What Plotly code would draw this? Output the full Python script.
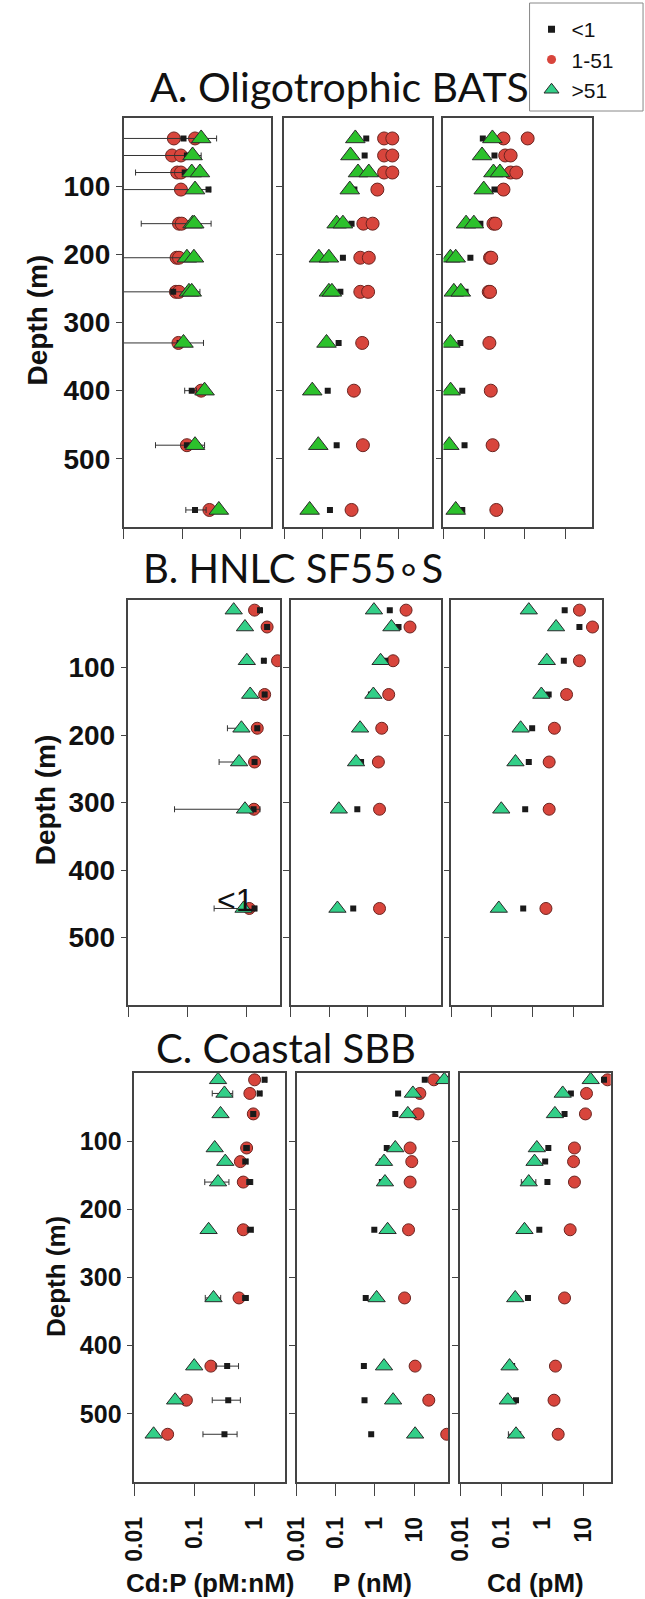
import math
import plotly.graph_objects as go

W, H = 645, 1599

# ---------------- Panel A: Oligotrophic BATS ----------------
A_lt_depth = [30, 55, 80, 105, 155, 205, 255, 330, 400, 480, 575]
A_lt_cdp = [0.105, 0.12, 0.11, 0.28, 0.14, 0.13, 0.070, 0.09, 0.145, 0.12, 0.165]
A_lt_cdp_ep = [0.28, 0.09, 0.05, 0.02, 0.17, 0.03, 0.13, 0.14, 0.03, 0.12, 0.09]
A_lt_cdp_em = [0.2, 0.2, 0.094, 0.3, 0.12, 0.2, 0.1, 0.1, 0.035, 0.085, 0.05]
A_lt_p = [1.43, 1.3, 1.5, 0.7, 0.59, 0.35, 0.30, 0.27, 0.14, 0.24, 0.16]
A_lt_cd = [0.093, 0.18, 0.2, 0.18, 0.081, 0.046, 0.035, 0.026, 0.029, 0.033, 0.029]

A_mid_depth = [30, 30, 55, 55, 80, 80, 105, 155, 155, 205, 205, 255, 255, 330, 400, 480, 575]
A_mid_cdp = [0.072, 0.165, 0.067, 0.095, 0.082, 0.095, 0.095, 0.088, 0.098, 0.080, 0.088,
             0.078, 0.088, 0.086, 0.21, 0.12, 0.29]
A_mid_p = [4.2, 6.9, 4.2, 6.9, 4.2, 6.9, 2.8, 1.2, 2.1, 1.0, 1.67, 1.0, 1.6, 1.12, 0.68, 1.17, 0.59]
A_mid_cd = [0.30, 1.18, 0.33, 0.45, 0.45, 0.62, 0.30, 0.17, 0.19, 0.14, 0.15, 0.13, 0.14,
            0.135, 0.146, 0.162, 0.20]

A_gt_depth = [30, 55, 80, 80, 105, 155, 155, 205, 205, 255, 255, 330, 400, 480, 575]
A_gt_cdp = [0.21, 0.15, 0.145, 0.20, 0.165, 0.15, 0.16, 0.12, 0.158, 0.13, 0.145, 0.105, 0.24, 0.165, 0.42]
A_gt_p = [0.74, 0.55, 0.87, 1.67, 0.53, 0.24, 0.35, 0.082, 0.15, 0.15, 0.18, 0.13, 0.055, 0.079, 0.047]
A_gt_cd = [0.16, 0.089, 0.17, 0.245, 0.098, 0.036, 0.056, 0.0148, 0.020, 0.018, 0.0267,
           0.0148, 0.015, 0.0139, 0.02]

# ---------------- Panel B: HNLC SF55S ----------------
B_depth = [15, 40, 90, 140, 190, 240, 310, 457]
B_lt_cdp = [1.67, 2.2, 1.94, 2.0, 1.5, 1.35, 1.3, 1.35]
B_lt_cdp_ep = [0.1, 0.1, 0.12, 0.1, 0.1, 0.08, 0.37, 0.08]
B_lt_cdp_em = [0.1, 0.1, 0.12, 0.1, 0.1, 0.08, 1.24, 0.08]
B_lt_p = [3.9, 6.6, 3.0, 1.25, 0.65, 0.69, 0.55, 0.43]
B_lt_cd = [6.2, 14.3, 5.9, 2.5, 0.98, 0.81, 0.66, 0.59]
B_mid_cdp = [1.35, 2.2, 3.3, 2.0, 1.5, 1.35, 1.32, 1.1]
B_mid_p = [10.4, 13.2, 4.75, 3.65, 2.4, 1.96, 2.1, 2.1]
B_mid_cd = [14.3, 30, 14.3, 6.9, 3.46, 2.57, 2.57, 2.14]
B_gt_cdp = [0.60, 0.93, 1.0, 1.14, 0.81, 0.74, 0.93, 0.88]
B_gt_cdp_ep = [0, 0, 0, 0, 0.05, 0.05, 0, 0.05]
B_gt_cdp_em = [0, 0, 0, 0, 0.34, 0.40, 0, 0.6]
B_gt_p = [1.5, 4.3, 2.24, 1.45, 0.65, 0.51, 0.18, 0.166]
B_gt_cd = [0.81, 3.8, 2.25, 1.65, 0.51, 0.38, 0.17, 0.148]

# ---------------- Panel C: Coastal SBB ----------------
C_depth = [10, 30, 60, 110, 130, 160, 230, 330, 430, 480, 530]
C_lt_cdp = [1.5, 1.24, 0.97, 0.75, 0.72, 0.85, 0.87, 0.72, 0.355, 0.37, 0.32]
C_lt_cdp_ep = [0.1, 0.1, 0.08, 0.08, 0.07, 0.1, 0.1, 0.08, 0.195, 0.22, 0.2]
C_lt_cdp_em = [0.1, 0.1, 0.08, 0.08, 0.07, 0.1, 0.1, 0.08, 0.125, 0.17, 0.18]
C_lt_p = [18.7, 3.9, 3.3, 2.0, 1.5, 1.5, 0.96, 0.58, 0.52, 0.54, 0.8]
C_lt_cd = [32, 5.0, 3.5, 1.41, 1.18, 1.34, 0.85, 0.45, 0.185, 0.23, 0.25]
C_mid_cdp = [1.02, 0.85, 0.97, 0.75, 0.59, 0.66, 0.66, 0.56, 0.19, 0.074, 0.036]
C_mid_p = [32, 14, 12.6, 7.9, 8.7, 7.9, 7.2, 5.7, 10.6, 23.7, 68]
C_mid_cd = [39, 12, 11.3, 6.1, 5.8, 6.1, 4.8, 3.5, 2.1, 1.94, 2.45]
C_gt_cdp = [0.25, 0.32, 0.275, 0.22, 0.33, 0.25, 0.174, 0.21, 0.10, 0.048, 0.021]
C_gt_cdp_ep = [0, 0.12, 0, 0, 0, 0.13, 0, 0.067, 0, 0, 0]
C_gt_cdp_em = [0, 0.12, 0, 0, 0, 0.10, 0, 0.057, 0, 0, 0]
C_gt_p = [59, 9.3, 6.9, 3.3, 1.7, 1.8, 2.1, 1.1, 1.7, 2.9, 10.6]
C_gt_cd = [15.2, 3.16, 2.04, 0.74, 0.65, 0.47, 0.37, 0.22, 0.16, 0.145, 0.23]
C_gt_cd_ep = [0, 0, 0, 0, 0, 0.23, 0, 0, 0, 0, 0.07]
C_gt_cd_em = [0, 0, 0, 0, 0, 0.16, 0, 0, 0, 0, 0.08]

class_names = ["<1", "1-51", ">51"]
panel_titles = ["A. Oligotrophic BATS", "B. HNLC SF55\u2218S", "C. Coastal SBB"]
x_titles = ["Cd:P (pM:nM)", "P (nM)", "Cd (pM)"]
depth_ticks = [100, 200, 300, 400, 500]
x_tickvals = [0.01, 0.1, 1, 10]
x_ticktext = ["0.01", "0.1", "1", "10"]

# ---------------- layout geometry (pixels) ----------------
col_px = [
    [(112, 263), (276, 427), (439, 591)],
    [(117, 272), (283, 436), (447, 601)],
    [(123, 277), (289, 444), (456, 610)],
]
row_px = [(118, 527), (600, 1005), (1073, 1482)]
col_range = [
    [0.517, 1.872, 1.66],
    [0.562, 1.92, 1.71],
    [0.516, 1.875, 1.67],
]

RED = "#d8453c"
RED_LINE = "#6b2420"
GREEN = ["#2cc12c", "#33cf88", "#33cf88"]
BLACK = "#1a1a1a"
AX = "#444444"

fig = go.Figure()


def ax_name(r, c):
    k = r * 3 + c + 1
    return ("x" if k == 1 else f"x{k}"), ("y" if k == 1 else f"y{k}")


def add(r, c, depth, vals, cls, ep=None, em=None, pct=None):
    xa, ya = ax_name(r, c)
    if cls == 0:
        marker = dict(symbol="square", size=6, color=BLACK, line=dict(width=0))
    elif cls == 1:
        marker = dict(symbol="circle", size=13 if r == 0 else 12, color=RED,
                      line=dict(color=RED_LINE, width=1))
    else:
        marker = dict(symbol="triangle-up", size=17 if r == 0 else 15, color=GREEN[r],
                      line=dict(color="#2a2a2a", width=1))
    err = None
    if ep is not None:
        err = dict(type="data", symmetric=False, array=ep, arrayminus=em,
                   color="#333333", thickness=1, width=3)
    elif pct is not None:
        err = dict(type="percent", value=pct, color="#333333", thickness=1, width=2)
    fig.add_trace(go.Scatter(x=vals, y=depth, mode="markers", marker=marker,
                             error_x=err, xaxis=xa, yaxis=ya, showlegend=False,
                             cliponaxis=True, hoverinfo="skip"))


# draw order: 1-51 (red) under, <1 (black), >51 (green) on top
panels = [
    dict(lt=(A_lt_depth, [A_lt_cdp, A_lt_p, A_lt_cd], (A_lt_cdp_ep, A_lt_cdp_em)),
         mid=(A_mid_depth, [A_mid_cdp, A_mid_p, A_mid_cd]),
         gt=(A_gt_depth, [A_gt_cdp, A_gt_p, A_gt_cd], [None, None, None])),
    dict(lt=(B_depth, [B_lt_cdp, B_lt_p, B_lt_cd], (B_lt_cdp_ep, B_lt_cdp_em)),
         mid=(B_depth, [B_mid_cdp, B_mid_p, B_mid_cd]),
         gt=(B_depth, [B_gt_cdp, B_gt_p, B_gt_cd], [(B_gt_cdp_ep, B_gt_cdp_em), None, None])),
    dict(lt=(C_depth, [C_lt_cdp, C_lt_p, C_lt_cd], (C_lt_cdp_ep, C_lt_cdp_em)),
         mid=(C_depth, [C_mid_cdp, C_mid_p, C_mid_cd]),
         gt=(C_depth, [C_gt_cdp, C_gt_p, C_gt_cd], [(C_gt_cdp_ep, C_gt_cdp_em), None, (C_gt_cd_ep, C_gt_cd_em)])),
]

for r, pdat in enumerate(panels):
    for c in range(3):
        d, vals = pdat["mid"]
        add(r, c, d, vals[c], 1)
        d, vals, e = pdat["lt"]
        if c == 0:
            add(r, c, d, vals[c], 0, ep=e[0], em=e[1])
        else:
            add(r, c, d, vals[c], 0, pct=8)
        d, vals, e = pdat["gt"]
        if e[c] is not None:
            add(r, c, d, vals[c], 2, ep=e[c][0], em=e[c][1])
        else:
            add(r, c, d, vals[c], 2)

# legend-only entries
leg_markers = [
    dict(symbol="square", size=7, color=BLACK),
    dict(symbol="circle", size=9, color=RED),
    dict(symbol="triangle-up", size=13, color=GREEN[1], line=dict(color="#2a2a2a", width=1)),
]
for i, (nm, mk) in enumerate(zip(class_names, leg_markers)):
    fig.add_trace(go.Scatter(x=[None], y=[None], mode="markers", marker=mk, name=nm,
                             legendrank=i + 1, showlegend=True, xaxis="x", yaxis="y"))

layout = dict(
    width=W, height=H, margin=dict(l=0, r=0, t=0, b=0),
    paper_bgcolor="white", plot_bgcolor="white",
    font=dict(family="Liberation Sans, Arial", color="#111111"),
    showlegend=True,
    legend=dict(x=529 / W, y=1 - 9 / H, xanchor="left", yanchor="top",
                bgcolor="rgba(0,0,0,0)", borderwidth=0,
                font=dict(family="Liberation Sans, Arial", size=21, color="#111111"),
                tracegroupgap=0),
)

for r in range(3):
    y0, y1 = row_px[r]
    for c in range(3):
        k = r * 3 + c + 1
        x0, x1 = col_px[r][c]
        xa, ya = ax_name(r, c)
        xkey = "xaxis" if k == 1 else f"xaxis{k}"
        ykey = "yaxis" if k == 1 else f"yaxis{k}"
        nt = 3 if c == 0 else 4
        layout[xkey] = dict(
            type="log", range=[-2, col_range[r][c]], domain=[x0 / W, x1 / W], anchor=ya,
            showline=True, mirror=True, linecolor=AX, linewidth=1.5,
            ticks="outside", ticklen=12 if r == 2 else 10, tickwidth=1.2, tickcolor=AX,
            tickvals=x_tickvals[:nt], ticktext=x_ticktext[:nt],
            showticklabels=(r == 2), tickangle=-90, ticklabelstandoff=12,
            tickfont=dict(family="Liberation Sans, Arial", size=23, weight="bold", color="#111"),
            showgrid=False, zeroline=False,
        )
        layout[ykey] = dict(
            range=[600, 0], domain=[1 - y1 / H, 1 - y0 / H], anchor=xa,
            showline=True, mirror=True, linecolor=AX, linewidth=1.5,
            ticks="outside", ticklen=6, tickwidth=1.2, tickcolor=AX,
            tickvals=depth_ticks, ticktext=[str(v) for v in depth_ticks],
            showticklabels=(c == 0),
            tickfont=dict(family="Liberation Sans, Arial", size=28 if r < 2 else 25,
                          weight="bold", color="#111"),
            showgrid=False, zeroline=False,
        )

annotations = []
title_pos = [(333, 87, 41), (285, 568, 40), (278, 1048, 40)]
for t, (tx, ty, fs) in zip(panel_titles, title_pos):
    annotations.append(dict(text=t, x=tx / W, y=1 - ty / H, xref="paper", yref="paper",
                            showarrow=False, xanchor="center", yanchor="middle",
                            font=dict(family="Lato", size=fs, color="#111")))
ylab_pos = [(25, 320, 28), (32, 800, 28), (43, 1277, 26)]
for (lx, ly, fs) in ylab_pos:
    annotations.append(dict(text="Depth (m)", x=lx / W, y=1 - ly / H, xref="paper", yref="paper",
                            showarrow=False, xanchor="center", yanchor="middle", textangle=-90,
                            font=dict(family="Liberation Sans, Arial", size=fs, weight="bold", color="#111")))
for c, t in enumerate(x_titles):
    x0, x1 = col_px[2][c]
    annotations.append(dict(text=t, x=(x0 + x1) / 2 / W, y=1 - 1583 / H, xref="paper", yref="paper",
                            showarrow=False, xanchor="center", yanchor="middle",
                            font=dict(family="Liberation Sans, Arial", size=26, weight="bold", color="#111")))
# stray "<1" label inside panel B
annotations.append(dict(text="<1", x=math.log10(0.63), y=444, xref="x4", yref="y4",
                        showarrow=False, xanchor="center", yanchor="middle",
                        font=dict(family="Liberation Sans, Arial", size=32, color="#111")))
layout["annotations"] = annotations

layout["shapes"] = [dict(type="rect", xref="paper", yref="paper", x0=527 / W, x1=643 / W,
                         y0=1 - 111 / H, y1=1 - 3 / H, fillcolor="white",
                         line=dict(color="#888888", width=1), layer="below")]

fig.update_layout(**layout)
fig.write_html("out.html")
